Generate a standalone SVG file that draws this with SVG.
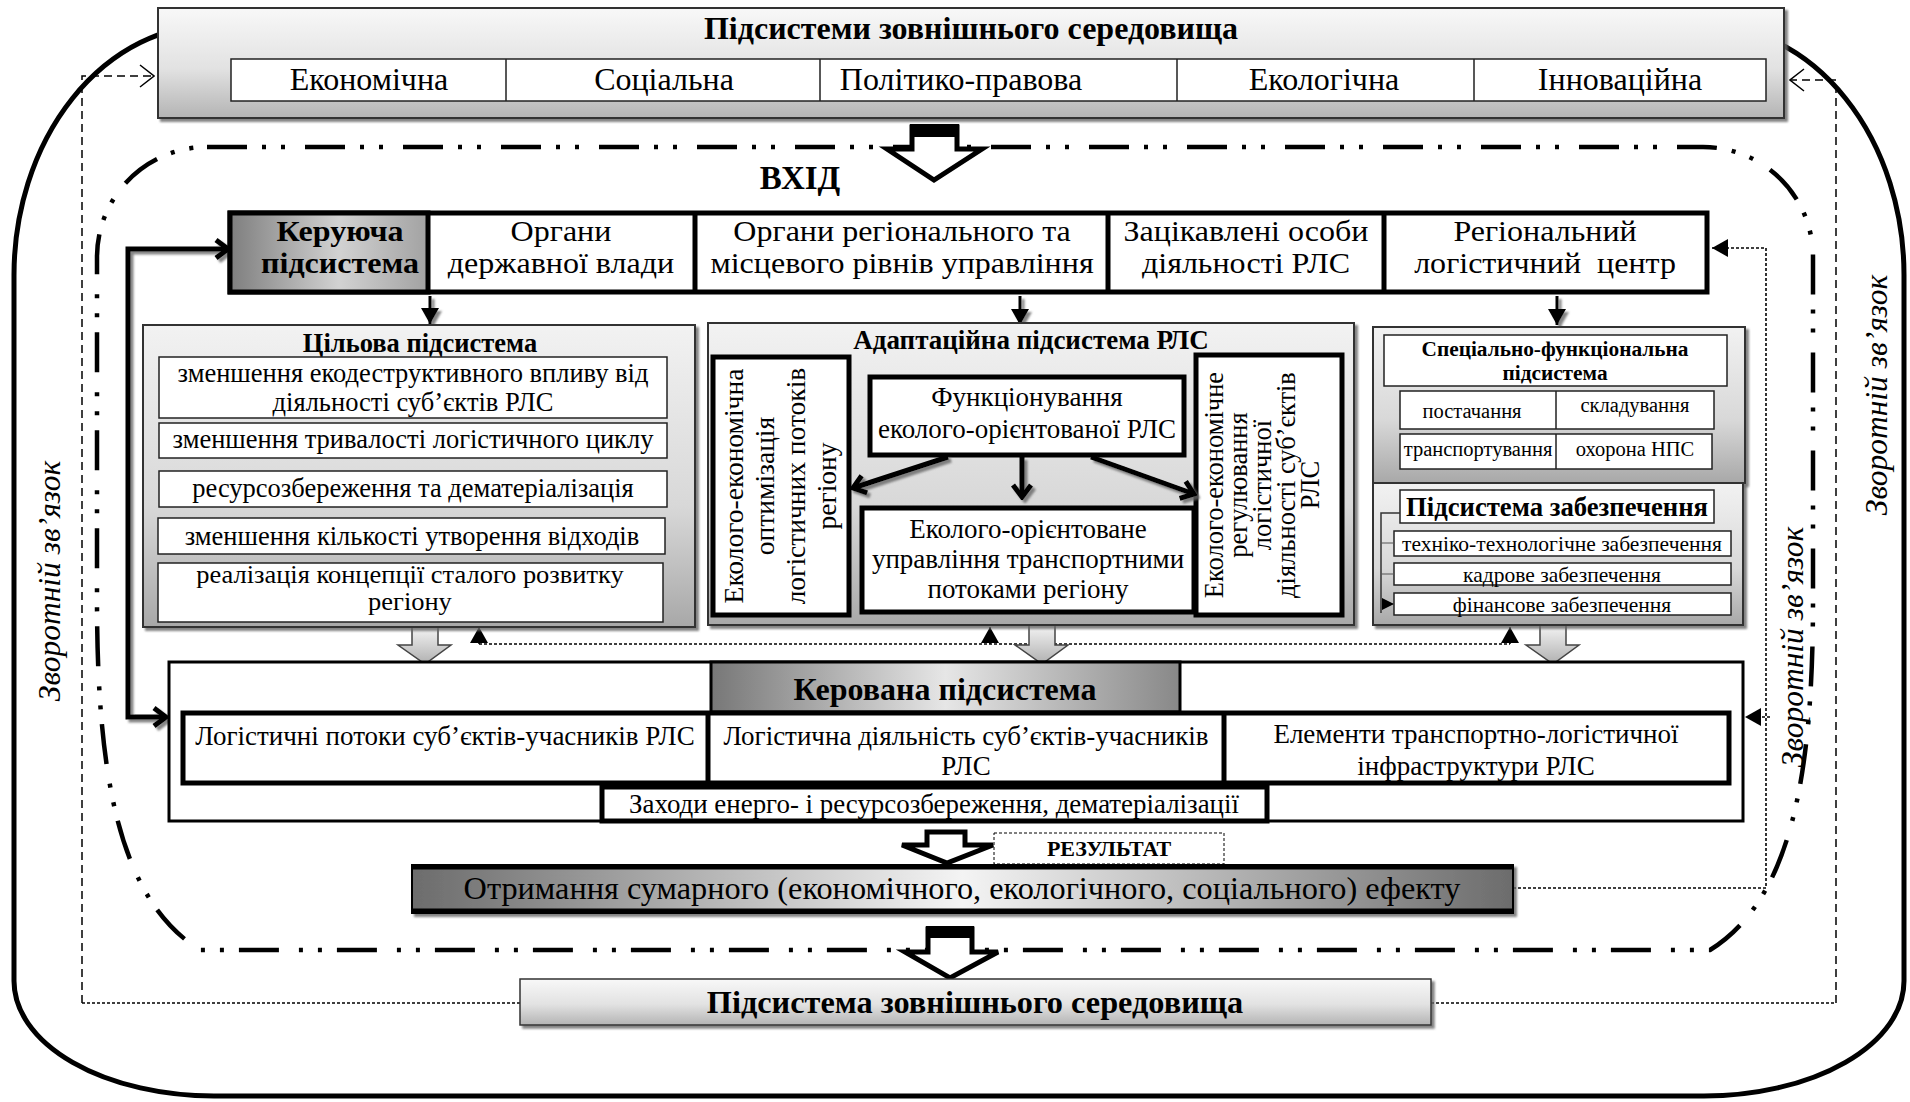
<svg xmlns="http://www.w3.org/2000/svg" width="1910" height="1102" viewBox="0 0 1910 1102">
<style>
text{font-family:'Liberation Serif','Times New Roman',serif;fill:#000}
.b{font-weight:bold}
.it{font-style:italic}
.m{text-anchor:middle}
.cell{fill:#fff;stroke:#222;stroke-width:1.5}
.thick{fill:#fff;stroke:#000;stroke-width:5}
.panel{stroke:#333;stroke-width:2}
.dash{fill:none;stroke:#000;stroke-width:1.5;stroke-dasharray:8 5}
.fdash{fill:none;stroke:#000;stroke-width:1.6;stroke-dasharray:3 2}
.tarr{fill:none;stroke:#000;stroke-width:5}
.garr{stroke:#444;stroke-width:1.5}
.barr{fill:#fff;stroke:#000;stroke-width:5;stroke-linejoin:miter}
</style>
<defs>
<linearGradient id="gHead" x1="0" y1="0" x2="0" y2="1"><stop offset="0" stop-color="#f8f8f8"/><stop offset="0.55" stop-color="#e2e2e2"/><stop offset="1" stop-color="#b4b4b4"/></linearGradient>
<linearGradient id="gPanel" x1="0" y1="0" x2="0" y2="1"><stop offset="0" stop-color="#f2f2f2"/><stop offset="0.6" stop-color="#d8d8d8"/><stop offset="1" stop-color="#a8a8a8"/></linearGradient>
<linearGradient id="gKer" x1="0" y1="0" x2="1" y2="0"><stop offset="0" stop-color="#7e7e7e"/><stop offset="0.55" stop-color="#d2d2d2"/><stop offset="1" stop-color="#a2a2a2"/></linearGradient>
<linearGradient id="gKerov" x1="0" y1="0" x2="1" y2="0"><stop offset="0" stop-color="#777"/><stop offset="0.5" stop-color="#e6e6e6"/><stop offset="1" stop-color="#888"/></linearGradient>
<linearGradient id="gRes" x1="0" y1="0" x2="1" y2="0"><stop offset="0" stop-color="#6c6c6c"/><stop offset="0.5" stop-color="#f4f4f4"/><stop offset="1" stop-color="#6c6c6c"/></linearGradient>
<linearGradient id="gArr" x1="0" y1="0" x2="0" y2="1"><stop offset="0" stop-color="#f4f4f4"/><stop offset="1" stop-color="#b0b0b0"/></linearGradient>
<filter id="sh" x="-5%" y="-10%" width="115%" height="130%"><feDropShadow dx="3" dy="3" stdDeviation="1.2" flood-color="#666" flood-opacity="0.8"/></filter>
<marker id="chev" markerUnits="userSpaceOnUse" viewBox="0 0 18 24" refX="15" refY="12" markerWidth="18" markerHeight="24" orient="auto"><path d="M3 3 L15 12 L3 21" fill="none" stroke="#000" stroke-width="5"/></marker>
<marker id="tri" markerUnits="userSpaceOnUse" viewBox="0 0 16 18" refX="16" refY="9" markerWidth="16" markerHeight="18" orient="auto"><path d="M0 0 L16 9 L0 18 Z" fill="#000"/></marker>
<marker id="tris" markerUnits="userSpaceOnUse" viewBox="0 0 12 12" refX="12" refY="6" markerWidth="12" markerHeight="12" orient="auto"><path d="M0 0 L12 6 L0 12 Z" fill="#000"/></marker>
<marker id="open" markerUnits="userSpaceOnUse" viewBox="0 0 16 24" refX="15" refY="12" markerWidth="16" markerHeight="24" orient="auto"><path d="M1 1 L15 12 L1 23" fill="none" stroke="#000" stroke-width="1.5"/></marker>
</defs>
<rect width="1910" height="1102" fill="#fff"/>

<!-- frames -->
<g id="frames">
<path d="M214 25 H1704 A200 250 0 0 1 1904 275 V981 A200 115 0 0 1 1704 1096 H214 A200 115 0 0 1 14 981 V275 A200 250 0 0 1 214 25 Z" fill="none" stroke="#000" stroke-width="5"/>
<path d="M207 147 H1703 A110 110 0 0 1 1813 257 V600 C1813 780 1790 900 1710 950 H200 C120 900 97 780 97 600 V257 A110 110 0 0 1 207 147 Z" fill="none" stroke="#000" stroke-width="4.5" stroke-dasharray="40 15 4 15 4 20"/>
</g>

<!-- connectors -->
<g id="connectors">
<path class="dash" d="M82 1003 V76 H154" marker-end="url(#open)"/>
<path class="dash" d="M1836 1003 V80 H1790" marker-end="url(#open)"/>
<path class="fdash" d="M82 1003 H520 M1431 1003 H1836" stroke-width="2"/>
<path class="fdash" d="M1513 888 H1766 V248 H1712" marker-end="url(#tri)"/>
<path class="fdash" d="M1770 717 H1745" marker-end="url(#tri)"/>
<path class="fdash" d="M479 644 H1510" stroke-width="2"/>
<path d="M479 644 V627" stroke="#000" stroke-width="1.5" marker-end="url(#tri)"/>
<path d="M990 644 V627" stroke="#000" stroke-width="1.5" marker-end="url(#tri)"/>
<path d="M1510 644 V627" stroke="#000" stroke-width="1.5" marker-end="url(#tri)"/>
<g filter="url(#sh)">
<path class="tarr" d="M128 480 V249 H228" marker-end="url(#chev)"/>
<path class="tarr" d="M128 480 V717 H166" marker-end="url(#chev)"/>
<path d="M430 296 V324" stroke="#000" stroke-width="3" marker-end="url(#tri)"/>
<path d="M1020 296 V325" stroke="#000" stroke-width="3" marker-end="url(#tri)"/>
<path d="M1557 296 V325" stroke="#000" stroke-width="3" marker-end="url(#tri)"/>
</g>
<g fill="url(#gArr)" class="garr">
<polygon points="412,627 438,627 438,645 451,645 425,664 398,645 412,645"/>
<polygon points="1029,625 1055,625 1055,645 1068,645 1042,664 1015,645 1029,645"/>
<polygon points="1540,625 1566,625 1566,645 1579,645 1553,664 1526,645 1540,645"/>
</g>
<polygon class="barr" points="912,127 957,127 957,149 982,149 934,180 887,149 912,149"/>
<rect x="910" y="124" width="49" height="13" fill="#000"/>
<polygon class="barr" points="927,832 965,832 965,845 993,845 947,863 902,845 927,845"/>
<polygon class="barr" points="928,929 972,929 972,952 998,952 950,978 905,952 928,952"/>
<rect x="926" y="926" width="48" height="12" fill="#000"/>
</g>

<!-- header -->
<g id="header">
<rect x="158" y="8" width="1626" height="110" fill="url(#gHead)" stroke="#333" stroke-width="2" filter="url(#sh)"/>
<text x="971" y="39" class="b m" font-size="32">Підсистеми зовнішнього середовища</text>
<rect x="231" y="59" width="1535" height="42" class="cell"/>
<path d="M506 59 V101 M820 59 V101 M1177 59 V101 M1474 59 V101" stroke="#222" stroke-width="1.5"/>
<g font-size="32">
<text x="369" y="90" class="m">Економічна</text>
<text x="664" y="90" class="m">Соціальна</text>
<text x="961" y="90" class="m">Політико-правова</text>
<text x="1324" y="90" class="m">Екологічна</text>
<text x="1620" y="90" class="m">Інноваційна</text>
</g>
</g>

<text x="800" y="189" class="b m" font-size="33">ВХІД</text>

<!-- control subsystem -->
<g id="control">
<rect x="230" y="213" width="1477" height="79" class="thick"/>
<rect x="230" y="213" width="198" height="79" fill="url(#gKer)" stroke="#000" stroke-width="5"/>
<path d="M695 213 V292 M1108 213 V292 M1384 213 V292" stroke="#000" stroke-width="5"/>
<g font-size="28.6" transform="scale(1.12 1)">
<text class="b m"><tspan x="303.6" y="241">Керуюча</tspan><tspan x="303.6" y="273">підсистема</tspan></text>
<text class="m"><tspan x="500.9" y="241">Органи</tspan><tspan x="500.9" y="273">державної влади</tspan></text>
<text class="m"><tspan x="805.4" y="241">Органи регіонального та</tspan><tspan x="805.4" y="273">місцевого рівнів управління</tspan></text>
<text class="m"><tspan x="1112.5" y="241">Зацікавлені особи</tspan><tspan x="1112.5" y="273">діяльності РЛС</tspan></text>
<text class="m"><tspan x="1379.5" y="241">Регіональний</tspan><tspan x="1379.5" y="273">логістичний&#160; центр</tspan></text>
</g>
</g>

<!-- target subsystem -->
<g id="target">
<rect x="143" y="325" width="552" height="302" fill="url(#gPanel)" class="panel" filter="url(#sh)"/>
<text x="420" y="352" class="b m" font-size="26.5">Цільова підсистема</text>
<rect x="159" y="357" width="508" height="61" class="cell"/>
<rect x="159" y="423" width="508" height="35" class="cell"/>
<rect x="159" y="471" width="508" height="36" class="cell"/>
<rect x="158" y="518" width="507" height="36" class="cell"/>
<rect x="158" y="563" width="505" height="59" class="cell"/>
<g font-size="26.5">
<text class="m"><tspan x="413" y="382">зменшення екодеструктивного впливу від</tspan><tspan x="413" y="411">діяльності суб’єктів РЛС</tspan></text>
<text x="413" y="448" class="m">зменшення тривалості логістичного циклу</text>
<text x="413" y="497" class="m">ресурсозбереження та дематеріалізація</text>
<text x="412" y="545" class="m">зменшення кількості утворення відходів</text>
</g>
<g font-size="24.5" transform="scale(1.08 1)">
<text class="m"><tspan x="379.6" y="583">реалізація концепції сталого розвитку</tspan><tspan x="379.6" y="610">регіону</tspan></text>
</g>
</g>

<!-- adaptation subsystem -->
<g id="adaptation">
<rect x="708" y="323" width="646" height="302" fill="url(#gPanel)" class="panel" filter="url(#sh)"/>
<text x="1031" y="349" class="b m" font-size="27">Адаптаційна підсистема РЛС</text>
<rect x="713" y="357" width="136" height="258" class="thick" stroke-width="4.5"/>
<rect x="1196" y="355" width="146" height="260" class="thick" stroke-width="4.5"/>
<rect x="870" y="377" width="314" height="78" class="thick"/>
<rect x="862" y="508" width="332" height="104" class="thick"/>
<g font-size="27.5">
<text transform="rotate(-90 743 486)" x="743" y="486" class="m">Еколого-економічна</text>
<text transform="rotate(-90 774 486)" x="774" y="486" class="m">оптимізація</text>
<text transform="rotate(-90 805 486)" x="805" y="486" class="m">логістичних потоків</text>
<text transform="rotate(-90 836 486)" x="836" y="486" class="m">регіону</text>
</g>
<g font-size="26.5">
<text transform="rotate(-90 1223 485)" x="1223" y="485" class="m">Еколого-економічне</text>
<text transform="rotate(-90 1247 485)" x="1247" y="485" class="m">регулювання</text>
<text transform="rotate(-90 1271 485)" x="1271" y="485" class="m">логістичної</text>
<text transform="rotate(-90 1295 485)" x="1295" y="485" class="m">діяльності суб’єктів</text>
<text transform="rotate(-90 1319 485)" x="1319" y="485" class="m">РЛС</text>
</g>
<g font-size="27">
<text class="m"><tspan x="1027" y="406">Функціонування</tspan><tspan x="1027" y="438">еколого-орієнтованої РЛС</tspan></text>
<text class="m"><tspan x="1028" y="538">Еколого-орієнтоване</tspan><tspan x="1028" y="568">управління транспортними</tspan><tspan x="1028" y="598">потоками регіону</tspan></text>
</g>
<g filter="url(#sh)">
<path class="tarr" d="M948 457 L853 488" marker-end="url(#chev)"/>
<path class="tarr" d="M1022 457 V497" marker-end="url(#chev)"/>
<path class="tarr" d="M1091 457 L1194 494" marker-end="url(#chev)"/>
</g>
</g>

<!-- special-functional subsystem -->
<g id="special">
<rect x="1373" y="327" width="372" height="156" fill="url(#gPanel)" class="panel" filter="url(#sh)"/>
<rect x="1384" y="335" width="343" height="51" class="cell"/>
<text class="b m" font-size="21.3"><tspan x="1555" y="356">Спеціально-функціональна</tspan><tspan x="1555" y="380">підсистема</tspan></text>
<rect x="1400" y="391" width="314" height="38" class="cell"/>
<rect x="1400" y="434" width="312" height="35" class="cell"/>
<path d="M1556 391 V429 M1556 434 V469" stroke="#222" stroke-width="1.5"/>
<g font-size="20.5">
<text x="1472" y="418" class="m">постачання</text>
<text x="1635" y="412" class="m">складування</text>
<text x="1478" y="456" class="m">транспортування</text>
<text x="1635" y="456" class="m">охорона НПС</text>
</g>
</g>

<!-- support subsystem -->
<g id="support">
<rect x="1373" y="483" width="370" height="142" fill="url(#gPanel)" class="panel" filter="url(#sh)"/>
<rect x="1400" y="490" width="314" height="33" class="cell"/>
<text x="1557" y="516" class="b m" font-size="26.7">Підсистема забезпечення</text>
<rect x="1394" y="531" width="337" height="25" class="cell"/>
<rect x="1394" y="563" width="337" height="22" class="cell"/>
<rect x="1394" y="593" width="337" height="22" class="cell"/>
<g font-size="21.5">
<text x="1562" y="551" class="m">техніко-технологічне забезпечення</text>
<text x="1562" y="582" class="m">кадрове забезпечення</text>
<text x="1562" y="612" class="m">фінансове забезпечення</text>
</g>
<path d="M1400 513 H1381 V613" fill="none" stroke="#333" stroke-width="1.5"/>
<path d="M1381 543 H1394 M1381 574 H1394 M1381 604 H1394" stroke="#555" stroke-width="1.2" marker-end="url(#tris)"/>
</g>

<!-- managed subsystem -->
<g id="managed">
<rect x="169" y="662" width="1574" height="159" fill="#fff" stroke="#000" stroke-width="3"/>
<rect x="711" y="662" width="469" height="50" fill="url(#gKerov)" stroke="#000" stroke-width="3"/>
<text x="945" y="700" class="b m" font-size="32">Керована підсистема</text>
<rect x="183" y="713" width="1546" height="70" class="thick" stroke-width="5"/>
<path d="M708 713 V783 M1224 713 V783" stroke="#000" stroke-width="5"/>
<rect x="602" y="787" width="665" height="34" class="thick" stroke-width="4"/>
<g font-size="27">
<text x="445" y="745" class="m">Логістичні потоки суб’єктів-учасників РЛС</text>
<text class="m"><tspan x="966" y="745">Логістична діяльність суб’єктів-учасників</tspan><tspan x="966" y="775">РЛС</tspan></text>
<text class="m"><tspan x="1476" y="743">Елементи транспортно-логістичної</tspan><tspan x="1476" y="775">інфраструктури РЛС</tspan></text>
<text x="934" y="813" class="m" font-size="26.9">Заходи енерго- і ресурсозбереження, дематеріалізації</text>
</g>
</g>

<!-- result -->
<g id="result-label">
<rect x="994" y="833" width="230" height="31" fill="#fff" stroke="#000" stroke-width="1" stroke-dasharray="3 2"/>
<text x="1109" y="856" class="b m" font-size="22">РЕЗУЛЬТАТ</text>
</g>
<g id="result">
<rect x="412" y="865" width="1101" height="48" fill="url(#gRes)" stroke="#000" stroke-width="2" filter="url(#sh)"/>
<path d="M412 867 H1513 M412 911 H1513" stroke="#000" stroke-width="5"/>
<text x="962" y="899" class="m" font-size="32.3">Отримання сумарного (економічного, екологічного, соціального) ефекту</text>
</g>

<!-- external environment bottom -->
<g id="external">
<rect x="520" y="979" width="911" height="46" fill="url(#gHead)" stroke="#333" stroke-width="1.5" filter="url(#sh)"/>
<text x="975" y="1013" class="b m" font-size="32.3">Підсистема зовнішнього середовища</text>
</g>

<!-- feedback labels -->
<g id="labels" font-size="31.5">
<text transform="rotate(-90 60 581)" x="60" y="581" class="it m">Зворотній зв’язок</text>
<text transform="rotate(-90 1887 395)" x="1887" y="395" class="it m">Зворотній зв’язок</text>
<text transform="rotate(-90 1803 647)" x="1803" y="647" class="it m">Зворотній зв’язок</text>
</g>
</svg>
